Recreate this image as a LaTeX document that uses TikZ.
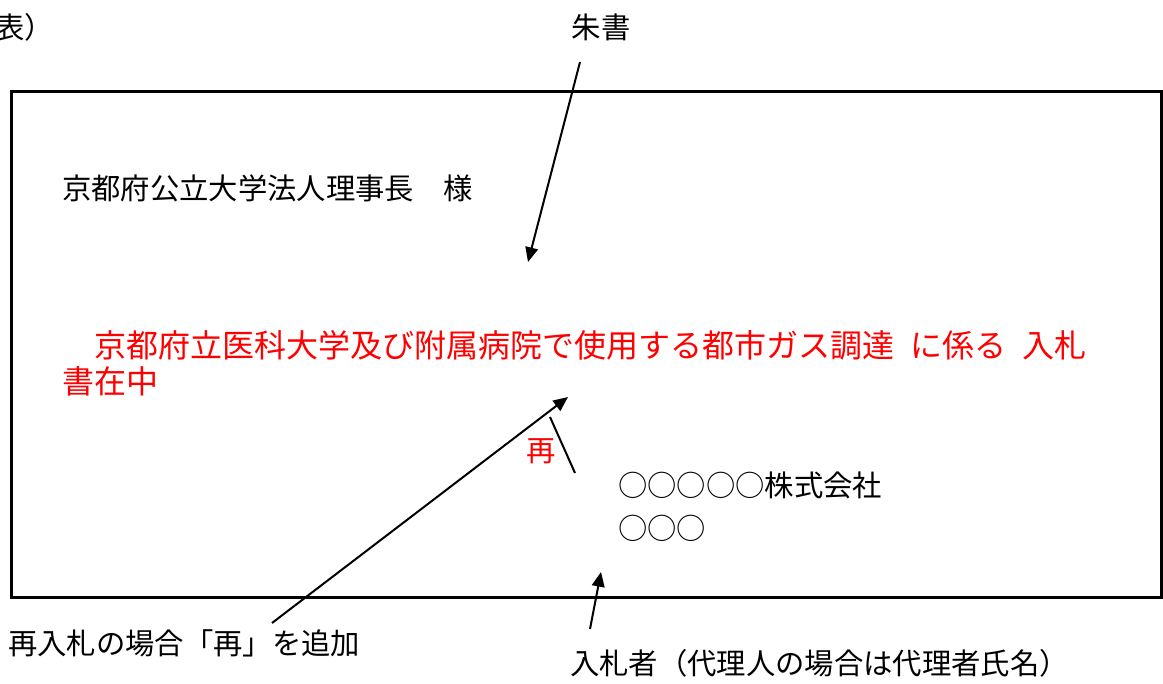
\documentclass[tikz,border=0pt]{standalone}
\usepackage{fontspec}
\newfontfamily\jpfont{Noto Sans CJK JP}
\usetikzlibrary{arrows.meta}

\tikzset{
  note/.style={font=\jpfont\fontsize{22}{26}\selectfont, inner sep=0pt, anchor=west},
  pointer/.style={line width=1.5pt, -{Triangle[length=11pt,width=9.5pt]}},
}

\begin{document}
\begin{tikzpicture}[x=0.75pt, y=-0.75pt]
  \useasboundingbox (0,0) rectangle (1163,684);
  % envelope
  \draw[line width=2.25pt] (11,92) rectangle (1161,597);

  \node[note] (table) at (-5,27) {表）};
  \node[note, anchor=center] (redink) at (601,27) {朱書};
  \node[note] (address) at (62,188) {京都府公立大学法人理事長　様};
  \node[note, text=red, font=\jpfont\fontsize{24}{27}\selectfont, align=left] (title) at (62,363)
    {　京都府立医科大学及び附属病院で使用する都市ガス調達\hspace{.5em}に係る\hspace{.5em}入札\\書在中};
  \node[note, text=red, anchor=center] (again) at (541,451) {再};
  \node[note] (company) at (618,485) {○○○○○株式会社};
  \node[note] (agent) at (618,528) {○○○};
  \node[note] (rebid) at (8,643) {再入札の場合「再」を追加};
  \node[note] (bidder) at (570,663) {入札者（代理人の場合は代理者氏名）};

  % arrows
  \coordinate (redinkFrom) at (580,62);
  \coordinate (redinkTo) at (528,262);
  \draw[pointer] (redinkFrom) -- (redinkTo);

  \coordinate (rebidFrom) at (272,623);
  \coordinate (rebidTo) at (568,397);
  \draw[pointer] (rebidFrom) -- (rebidTo);

  \coordinate (bidderFrom) at (590,629);
  \coordinate (bidderTo) at (601,572);
  \draw[pointer] (bidderFrom) -- (bidderTo);

  \coordinate (tickA) at (550,417);
  \coordinate (tickB) at (575,473);
  \draw[line width=1.5pt] (tickA) -- (tickB);
\end{tikzpicture}
\end{document}
